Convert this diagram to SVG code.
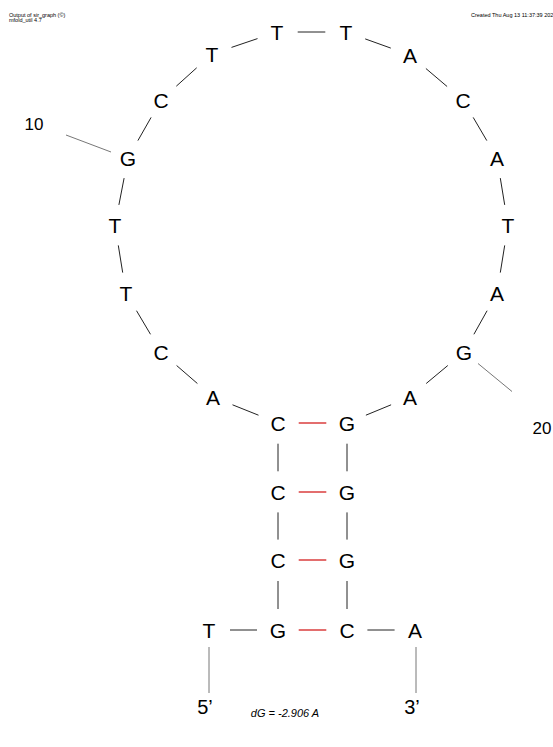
<svg xmlns="http://www.w3.org/2000/svg" width="553" height="747" viewBox="0 0 553 747">
<style>
.nt{font-family:"Liberation Sans",Arial,sans-serif;font-size:21px;fill:#000;text-anchor:middle}
.num{font-family:"Liberation Sans",Arial,sans-serif;font-size:17px;fill:#000;text-anchor:middle}
.end{font-family:"Liberation Sans",Arial,sans-serif;font-size:20px;fill:#000;text-anchor:middle}
.hdr{font-family:"Liberation Sans",Arial,sans-serif;font-size:5.5px;fill:#000}
.dg{font-family:"Liberation Sans",Arial,sans-serif;font-size:11px;font-style:italic;fill:#000;text-anchor:middle}
.bb{stroke:#222;stroke-width:1;fill:none}
.tk{stroke:#777;stroke-width:1;fill:none}
.bp{stroke:#d42020;stroke-width:1.3;fill:none}
</style>
<rect width="553" height="747" fill="#fff"/>
<g id="header">
<text class="hdr" x="9" y="16.5">Output of sir_graph (©)</text>
<text class="hdr" x="9" y="21.5">mfold_util 4.7</text>
<text class="hdr" x="471" y="16.5">Created Thu Aug 13 11:37:39 202</text>
</g>
<g id="connectors">
<line class="bb" x1="230" y1="630" x2="257" y2="630"/>
<line class="bb" x1="278" y1="609" x2="278" y2="581"/>
<line class="bb" x1="278" y1="539.6" x2="278" y2="512.4"/>
<line class="bb" x1="278" y1="471.3" x2="278" y2="443.7"/>
<line class="bb" x1="258.5" y1="415.2" x2="232.5" y2="404.8"/>
<line class="bb" x1="197.4" y1="383.5" x2="176.6" y2="365.5"/>
<line class="bb" x1="150.5" y1="334.3" x2="136.5" y2="310.7"/>
<line class="bb" x1="122.7" y1="272.6" x2="118.3" y2="245.4"/>
<line class="bb" x1="118.9" y1="204.9" x2="124.1" y2="178.1"/>
<line class="bb" x1="137.9" y1="140.6" x2="151.1" y2="117.4"/>
<line class="bb" x1="176.3" y1="86.2" x2="196.7" y2="67.8"/>
<line class="bb" x1="231.5" y1="47.4" x2="257.5" y2="38.6"/>
<line class="bb" x1="297.7" y1="32" x2="325.3" y2="32"/>
<line class="bb" x1="365.2" y1="38.9" x2="390.8" y2="48.1"/>
<line class="bb" x1="425.9" y1="68.5" x2="447.1" y2="86.5"/>
<line class="bb" x1="473.2" y1="117.4" x2="486.8" y2="140.6"/>
<line class="bb" x1="500.3" y1="178.1" x2="504.7" y2="204.9"/>
<line class="bb" x1="504.7" y1="245.4" x2="500.3" y2="272.6"/>
<line class="bb" x1="487.1" y1="310.7" x2="473.9" y2="334.3"/>
<line class="bb" x1="447.8" y1="365.5" x2="426.2" y2="383.5"/>
<line class="bb" x1="391.1" y1="404.8" x2="365.9" y2="415.2"/>
<line class="bb" x1="347" y1="443.7" x2="347" y2="471.3"/>
<line class="bb" x1="347" y1="512.4" x2="347" y2="539.6"/>
<line class="bb" x1="347" y1="581" x2="347" y2="609"/>
<line class="bb" x1="367.4" y1="630" x2="394.6" y2="630"/>
<line class="bp" x1="298.7" y1="630" x2="326.3" y2="630"/>
<line class="bp" x1="298.7" y1="560" x2="326.3" y2="560"/>
<line class="bp" x1="298.7" y1="492" x2="326.3" y2="492"/>
<line class="bp" x1="298.7" y1="423" x2="326.3" y2="423"/>
<line class="tk" x1="209" y1="647" x2="209" y2="693"/>
<line class="tk" x1="416" y1="647" x2="416" y2="693"/>
<line class="tk" x1="111" y1="152" x2="66" y2="135"/>
<line class="tk" x1="478" y1="363.5" x2="512" y2="391.5"/>
</g>
<g id="n1"><text class="nt" x="209" y="637.5">T</text></g>
<g id="n2"><text class="nt" x="278" y="637.5">G</text></g>
<g id="n3"><text class="nt" x="278" y="567.5">C</text></g>
<g id="n4"><text class="nt" x="278" y="499.5">C</text></g>
<g id="n5"><text class="nt" x="278" y="430.5">C</text></g>
<g id="n6"><text class="nt" x="213" y="404.5">A</text></g>
<g id="n7"><text class="nt" x="161" y="359.5">C</text></g>
<g id="n8"><text class="nt" x="126" y="300.5">T</text></g>
<g id="n9"><text class="nt" x="115" y="232.5">T</text></g>
<g id="n10"><text class="nt" x="128" y="165.5">G</text></g>
<g id="n11"><text class="nt" x="161" y="107.5">C</text></g>
<g id="n12"><text class="nt" x="212" y="61.5">T</text></g>
<g id="n13"><text class="nt" x="277" y="39.5">T</text></g>
<g id="n14"><text class="nt" x="346" y="39.5">T</text></g>
<g id="n15"><text class="nt" x="410" y="62.5">A</text></g>
<g id="n16"><text class="nt" x="463" y="107.5">C</text></g>
<g id="n17"><text class="nt" x="497" y="165.5">A</text></g>
<g id="n18"><text class="nt" x="508" y="232.5">T</text></g>
<g id="n19"><text class="nt" x="497" y="300.5">A</text></g>
<g id="n20"><text class="nt" x="464" y="359.5">G</text></g>
<g id="n21"><text class="nt" x="410" y="404.5">A</text></g>
<g id="n22"><text class="nt" x="347" y="430.5">G</text></g>
<g id="n23"><text class="nt" x="347" y="499.5">G</text></g>
<g id="n24"><text class="nt" x="347" y="567.5">G</text></g>
<g id="n25"><text class="nt" x="347" y="637.5">C</text></g>
<g id="n26"><text class="nt" x="415" y="637.5">A</text></g>
<g id="label10"><text class="num" x="34" y="130">10</text></g>
<g id="label20"><text class="num" x="542" y="434">20</text></g>
<g id="end5"><text class="end" x="205" y="714">5’</text></g>
<g id="end3"><text class="end" x="412" y="714">3’</text></g>
<g id="energy"><text class="dg" x="285" y="717">dG = -2.906 A</text></g>
</svg>
